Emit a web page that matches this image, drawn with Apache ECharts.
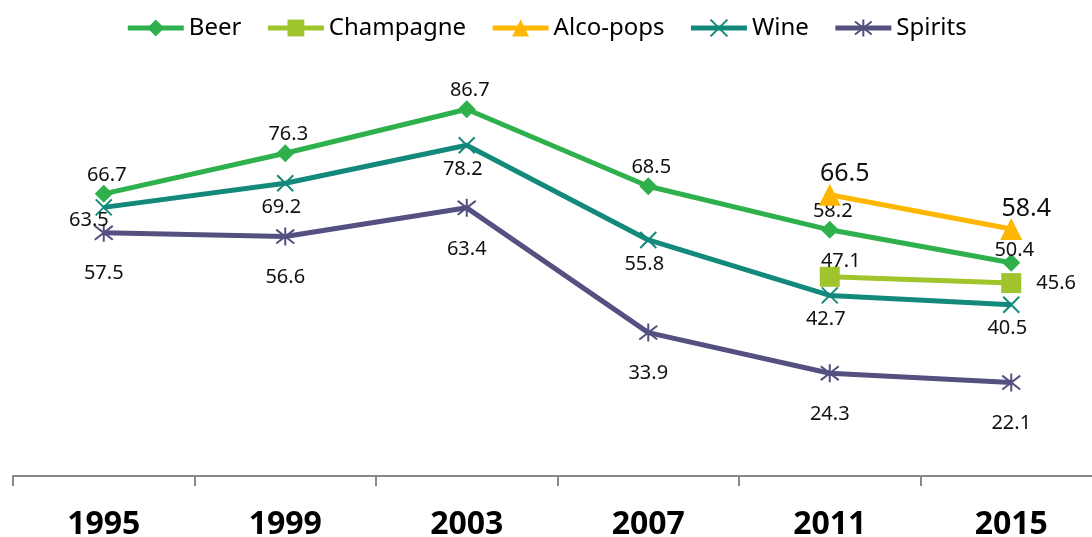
<!DOCTYPE html>
<html>
<head>
<meta charset="utf-8">
<script src="https://cdn.jsdelivr.net/npm/echarts@6/dist/echarts.min.js"></script>
<style>
  html, body { margin: 0; padding: 0; background: #fff; }
  #chart { width: 1092px; height: 537px; }
</style>
</head>
<body>
<div id="chart"></div>
<script>
const years = ['1995', '1999', '2003', '2007', '2011', '2015'];
const beer = [66.7, 76.3, 86.7, 68.5, 58.2, 50.4];
const champagne = [null, null, null, null, 47.1, 45.6];
const alcoPops = [null, null, null, null, 66.5, 58.4];
const wine = [63.5, 69.2, 78.2, 55.8, 42.7, 40.5];
const spirits = [57.5, 56.6, 63.4, 33.9, 24.3, 22.1];

const FONT = '"Noto Sans", sans-serif';
const X_PATH = 'path://M0,0L10,10M10,0L0,10';
const STAR_PATH = 'path://M0,0L10,10M10,0L0,10M5,-1.5L5,11.5';

// per point label tweaks (index -> label options)
function withLabels(values, tweaks) {
  return values.map((v, i) => {
    if (v == null) return null;
    return tweaks && tweaks[i] ? { value: v, label: tweaks[i] } : v;
  });
}

const chart = echarts.init(document.getElementById('chart'));

const option = {
  animation: false,
  textStyle: { fontFamily: FONT },
  legend: {
    top: 11,
    left: 'center',
    itemWidth: 56,
    itemHeight: 21,
    itemGap: 24,
    lineStyle: { width: 5 },
    textStyle: { fontSize: 24, color: '#000', fontFamily: FONT }
  },
  grid: {
    left: 13,
    right: -10,
    top: 53,
    bottom: 61,
    containLabel: false,
    outerBoundsMode: 'none'
  },
  xAxis: {
    type: 'category',
    data: years,
    boundaryGap: true,
    axisLine: { lineStyle: { color: '#888', width: 2 } },
    axisTick: { show: true, length: 10, lineStyle: { color: '#888', width: 2 } },
    axisLabel: {
      margin: 33,
      fontSize: 32,
      fontWeight: 'bold',
      color: '#000',
      fontFamily: FONT
    }
  },
  yAxis: {
    type: 'value',
    min: 0,
    max: 100,
    show: false,
    splitLine: { show: false }
  },
  series: [
    {
      name: 'Beer',
      type: 'line',
      data: withLabels(beer, { 5: { position: 'top', distance: -6 } }),
      symbol: 'diamond',
      symbolSize: 18,
      lineStyle: { width: 5, color: '#2eb14c' },
      itemStyle: { color: '#2eb14c' },
      label: { show: true, position: 'top', distance: 0, offset: [3, 0], fontSize: 20, color: '#111' },
      z: 4
    },
    {
      name: 'Champagne',
      type: 'line',
      data: withLabels(champagne, { 5: { position: 'right', distance: 15, offset: [0, 0] } }),
      symbol: 'rect',
      symbolSize: 20,
      lineStyle: { width: 5, color: '#a0c42b' },
      itemStyle: { color: '#a0c42b' },
      label: { show: true, position: 'top', distance: -5, offset: [11, 0], fontSize: 20, color: '#111' },
      z: 3
    },
    {
      name: 'Alco-pops',
      type: 'line',
      data: alcoPops,
      symbol: 'triangle',
      symbolSize: 22,
      lineStyle: { width: 5, color: '#ffb600' },
      itemStyle: { color: '#ffb600' },
      label: { show: true, position: 'top', distance: -3, offset: [15, 0], fontSize: 25, color: '#111' },
      z: 5
    },
    {
      name: 'Wine',
      type: 'line',
      data: withLabels(wine, { 0: { position: 'left', distance: -14, offset: [0, 13] } }),
      symbol: X_PATH,
      symbolSize: 16,
      lineStyle: { width: 5, color: '#12897a' },
      itemStyle: { color: '#12897a', borderColor: '#12897a', borderWidth: 2 },
      label: { show: true, position: 'bottom', distance: 5, offset: [-4, 0], fontSize: 20, color: '#111' },
      z: 2
    },
    {
      name: 'Spirits',
      type: 'line',
      data: spirits,
      symbol: STAR_PATH,
      symbolSize: 18,
      lineStyle: { width: 5, color: '#545080' },
      itemStyle: { color: '#545080', borderColor: '#545080', borderWidth: 2 },
      label: { show: true, position: 'bottom', distance: 21, fontSize: 20, color: '#111' },
      z: 1
    }
  ]
};

chart.setOption(option);
</script>
</body>
</html>
